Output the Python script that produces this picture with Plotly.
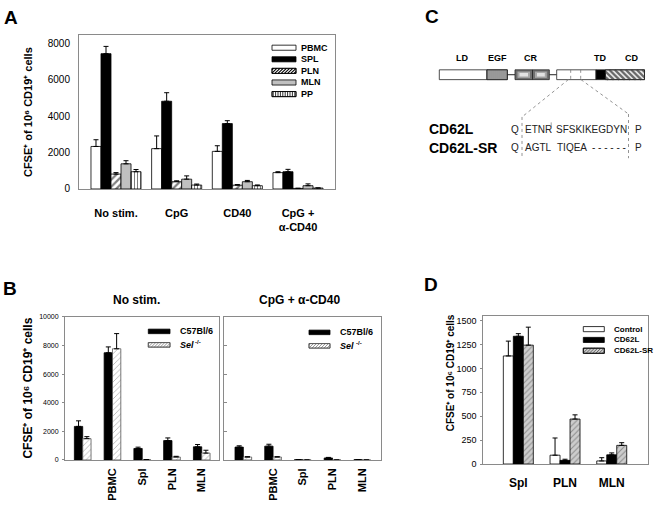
import plotly.graph_objects as go

# ---------------- data ----------------
# Panel A
a_groups = ["No stim.", "CpG", "CD40", "CpG +<br>α-CD40"]
a_series = ["PBMC", "SPL", "PLN", "MLN", "PP"]
a_pbmc = [2340, 2220, 2070, 900]
a_pbmc_err = [370, 700, 310, 50]
a_spl = [7450, 4830, 3600, 950]
a_spl_err = [400, 470, 160, 130]
a_pln = [820, 400, 210, 30]
a_pln_err = [80, 50, 30, 10]
a_mln = [1385, 540, 400, 180]
a_mln_err = [170, 180, 70, 100]
a_pp = [950, 215, 180, 50]
a_pp_err = [120, 55, 40, 10]
a_yticks = [0, 2000, 4000, 6000, 8000]

# Panel B
b_groups = ["PBMC", "SPL", "PLN", "MLN", "PP"]
b_ticklabels = ["", "PBMC", "Spl", "PLN", "MLN"]
b_series = ["C57Bl/6", "Sel"]
b_series_sup = ["", "-/-"]
b_titles = ["No stim.", "CpG + α-CD40"]
b_c57_nostim = [2345, 7490, 805, 1355, 920]
b_c57_nostim_err = [390, 410, 90, 185, 160]
b_sel_nostim = [1490, 7770, 30, 207, 480]
b_sel_nostim_err = [140, 1060, 0, 50, 200]
b_c57_cpg = [900, 965, 20, 140, 20]
b_c57_cpg_err = [90, 135, 0, 40, 0]
b_sel_cpg = [207, 207, 0, 0, 0]
b_sel_cpg_err = [20, 20, 0, 0, 0]
b_yticks = [0, 2000, 4000, 6000, 8000, 10000]
b_ytick_labels = ["0", "2000", "4000", "6000", "8000", "10000"]

# Panel D
d_groups = ["Spl", "PLN", "MLN"]
d_series = ["Control", "CD62L", "CD62L-SR"]
d_control = [1130, 92, 32]
d_control_err = [155, 180, 34]
d_cd62l = [1336, 38, 96]
d_cd62l_err = [27, 12, 20]
d_sr = [1243, 470, 195]
d_sr_err = [188, 44, 28]
d_yticks = [0, 250, 500, 750, 1000, 1250, 1500]

# Panel C (schematic text)
c_domains = ["LD", "EGF", "CR", "TD", "CD"]
c_seq_names = ["CD62L", "CD62L-SR"]
c_seq_cd62l = ["Q", "ETNR", "SFSKIKEGDYN", "P"]
c_seq_sr = ["Q", "AGTL", "TIQEA", "- - - - - -", "P"]

ytitle = "CFSE\u207a of 10\u2076 CD19\u207a cells"

# ---------------- helpers ----------------
W, H = 667, 508
FONT = "Liberation Sans, Arial, Helvetica, sans-serif"
AXC = "#8a8a8a"


def px(x):
    return x / W


def py(y):
    return 1 - y / H


shapes = []
annotations = []


def rect(x0, y0, x1, y1, fill, line="black", lw=0.8):
    shapes.append(dict(type="rect", xref="paper", yref="paper",
                       x0=px(x0), x1=px(x1), y0=py(y1), y1=py(y0),
                       fillcolor=fill, line=dict(color=line, width=lw),
                       layer="above"))


def seg(x0, y0, x1, y1, color="black", lw=1, dash="solid"):
    shapes.append(dict(type="line", xref="paper", yref="paper",
                       x0=px(x0), x1=px(x1), y0=py(y0), y1=py(y1),
                       line=dict(color=color, width=lw, dash=dash),
                       layer="above"))


def hatch(x0, y0, x1, y1, step, kind, color, lw):
    h = y1 - y0
    if kind == "|":
        x = x0 + step / 2
        while x < x1:
            seg(x, y0, x, y1, color, lw)
            x += step
        return
    c = x0 - h + step / 2
    while c < x1:
        tmin = max(0, x0 - c)
        tmax = min(h, x1 - c)
        if tmin < tmax:
            if kind == "/":
                seg(c + tmin, y1 - tmin, c + tmax, y1 - tmax, color, lw)
            else:
                seg(c + tmin, y0 + tmin, c + tmax, y0 + tmax, color, lw)
        c += step


def ann(x, y, text, size, xanchor="center", yanchor="middle", angle=0,
        color="black"):
    annotations.append(dict(x=px(x), y=py(y), xref="paper", yref="paper",
                            text=text, showarrow=False, xanchor=xanchor,
                            yanchor=yanchor, textangle=angle,
                            font=dict(size=size, color=color, family=FONT)))


fig = go.Figure()


def add_bars(xa, ya, values, errs, offset, width, color, pattern=None,
             line_color="black"):
    xs = list(range(len(values)))
    marker = dict(color=color, line=dict(color=line_color, width=0.8))
    if pattern:
        marker["pattern"] = pattern
    fig.add_trace(go.Bar(
        x=xs, y=values, width=width, offset=offset, marker=marker,
        xaxis=xa, yaxis=ya, showlegend=False, hoverinfo="skip",
        error_y=dict(type="data", array=errs, arrayminus=[0] * len(errs),
                     symmetric=False, color="black", thickness=1, width=2.5),
    ))


# ---------------- Panel A ----------------
aw = 0.165
a_vals = [(a_pbmc, a_pbmc_err), (a_spl, a_spl_err), (a_pln, a_pln_err),
          (a_mln, a_mln_err), (a_pp, a_pp_err)]
a_styles = [
    dict(color="white"),
    dict(color="black"),
    dict(color="white", pattern=dict(shape="/", fgcolor="black", bgcolor="white",
                                     size=5, solidity=0.45)),
    dict(color="#c0c0c0"),
    dict(color="white", pattern=dict(shape="|", fgcolor="black", bgcolor="white",
                                     size=3, solidity=0.35)),
]
for i, ((v, e), st) in enumerate(zip(a_vals, a_styles)):
    add_bars("x", "y", v, e, -2.5 * aw + i * aw, aw, st["color"], st.get("pattern"))

# ---------------- Panel B ----------------
bw = 0.28
hatch_sel = dict(shape="/", fgcolor="#6a6a6a", bgcolor="white", size=4, solidity=0.22)
add_bars("x2", "y2", b_c57_nostim, b_c57_nostim_err, -bw, bw, "black")
add_bars("x2", "y2", b_sel_nostim, b_sel_nostim_err, 0, bw, "white", hatch_sel, "#555")
add_bars("x3", "y3", b_c57_cpg, b_c57_cpg_err, -bw, bw, "black")
add_bars("x3", "y3", b_sel_cpg, b_sel_cpg_err, 0, bw, "white", hatch_sel, "#555")

# ---------------- Panel D ----------------
dw = 0.214
hatch_sr = dict(shape="/", fgcolor="#4a4a4a", bgcolor="#cdcdcd", size=4, solidity=0.25)
add_bars("x4", "y4", d_control, d_control_err, -1.5 * dw, dw, "white")
add_bars("x4", "y4", d_cd62l, d_cd62l_err, -0.5 * dw, dw, "black")
add_bars("x4", "y4", d_sr, d_sr_err, 0.5 * dw, dw, "#cdcdcd", hatch_sr)

# ---------------- axes ----------------
base_ax = dict(showline=True, mirror=True, linecolor=AXC, linewidth=1,
               showgrid=False, zeroline=False, tickcolor=AXC, fixedrange=True)

lay = dict(
    width=W, height=H, margin=dict(l=0, r=0, t=0, b=0),
    paper_bgcolor="white", plot_bgcolor="white", barmode="overlay",
    font=dict(family=FONT, color="black"), hovermode=False,
    xaxis=dict(base_ax, domain=[px(79), px(335)], range=[-0.61, 3.61], anchor="y",
               tickmode="array", tickvals=list(range(len(a_groups))), ticktext=a_groups,
               ticks="", tickfont=dict(size=11, weight="bold"), ticklabelstandoff=14),
    yaxis=dict(base_ax, domain=[py(188.3), py(31.7)], range=[0, 8470], anchor="x",
               tickmode="array", tickvals=a_yticks, ticks="",
               tickfont=dict(size=10), ticklabelstandoff=6),
    xaxis2=dict(base_ax, domain=[px(65), px(219.3)], range=[-0.595, 4.59], anchor="y2",
                tickmode="array", tickvals=list(range(len(b_groups))), ticktext=b_ticklabels,
                ticks="", tickangle=-90, tickfont=dict(size=11, weight="bold"),
                ticklabelstandoff=3),
    yaxis2=dict(base_ax, domain=[py(464.2), py(318.5)], range=[0, 10000], anchor="x2",
                tickmode="array", tickvals=b_yticks, ticktext=b_ytick_labels,
                ticks="outside", ticklen=2,
                tickfont=dict(size=7), ticklabelstandoff=2),
    xaxis3=dict(base_ax, domain=[px(224), px(380.7)], range=[-0.65, 4.62], anchor="y3",
                tickmode="array", tickvals=list(range(len(b_groups))), ticktext=b_ticklabels,
                ticks="", tickangle=-90, tickfont=dict(size=11, weight="bold"),
                ticklabelstandoff=3),
    yaxis3=dict(base_ax, domain=[py(464.2), py(318.5)], range=[0, 10000], anchor="x3",
                tickmode="array", tickvals=b_yticks, ticks="inside", ticklen=3,
                showticklabels=False),
    xaxis4=dict(base_ax, domain=[px(483.3), px(647.7)], range=[-0.75, 2.77], anchor="y4",
                tickmode="array", tickvals=list(range(len(d_groups))), ticktext=d_groups,
                ticks="", tickfont=dict(size=12, weight="bold"), ticklabelstandoff=8),
    yaxis4=dict(base_ax, domain=[py(468.3), py(317.7)], range=[0, 1547], anchor="x4",
                tickmode="array", tickvals=d_yticks, ticks="outside", ticklen=2,
                tickfont=dict(size=9), ticklabelstandoff=2),
)

# ---------------- legends (drawn) ----------------
# A
a_rows = [44.5, 56.3, 68.1, 79.9, 91.7]
for name, yc, st in zip(a_series, a_rows, a_styles):
    x0, x1, y0, y1 = 272, 296, yc - 2.6, yc + 2.6
    pat = st.get("pattern")
    rect(x0, y0, x1, y1, st["color"])
    if pat:
        hatch(x0, y0, x1, y1, 3.2 if pat["shape"] == "/" else 2.4, pat["shape"],
              "black", 1.1 if pat["shape"] == "/" else 0.8)
        rect(x0, y0, x1, y1, "rgba(0,0,0,0)")
    ann(299, yc, "<b>%s</b>" % name, 9, xanchor="left")

# B
for (lx0, lx1, tx, rows) in [(148.3, 170, 177.7, [333.3, 347]),
                              (309, 330, 338.3, [334.3, 348])]:
    rect(lx0, rows[0] - 2.3, lx1, rows[0] + 2.3, "black")
    rect(lx0, rows[1] - 2.3, lx1, rows[1] + 2.3, "white", "#555")
    hatch(lx0, rows[1] - 2.3, lx1, rows[1] + 2.3, 3, "/", "#6a6a6a", 0.7)
    rect(lx0, rows[1] - 2.3, lx1, rows[1] + 2.3, "rgba(0,0,0,0)", "#555")
    ann(tx, rows[0], "<b>%s</b>" % b_series[0], 9, xanchor="left")
    ann(tx, rows[1], "<b><i>%s</i></b>" % b_series[1], 9, xanchor="left")
    ann(tx + 15.5, rows[1] - 3.2, "<b>%s</b>" % b_series_sup[1], 6, xanchor="left")

# D
d_rows = [331, 342, 353]
rect(583.3, d_rows[0] - 2.6, 604.3, d_rows[0] + 2.6, "white")
rect(583.3, d_rows[1] - 2.6, 604.3, d_rows[1] + 2.6, "black")
rect(583.3, d_rows[2] - 2.6, 604.3, d_rows[2] + 2.6, "#cdcdcd")
hatch(583.3, d_rows[2] - 2.6, 604.3, d_rows[2] + 2.6, 3.2, "/", "#4a4a4a", 0.8)
rect(583.3, d_rows[2] - 2.6, 604.3, d_rows[2] + 2.6, "rgba(0,0,0,0)")
for name, yc in zip(d_series, d_rows):
    ann(611.7, yc, "<b>%s</b>" % name, 8, xanchor="left")

# ---------------- titles / letters ----------------
ann(10.5, 13.5, "<b>A</b>", 19)
ann(10, 290, "<b>B</b>", 19)
ann(432, 12.5, "<b>C</b>", 19)
ann(431.5, 286, "<b>D</b>", 19)
ann(28, 110, "<b>%s</b>" % ytitle, 11, angle=-90)
ann(28, 391.5, "<b>%s</b>" % ytitle, 12, angle=-90)
ann(450, 376, "<b>%s</b>" % ytitle, 10, angle=-90)
ann(136, 301.7, "<b>%s</b>" % b_titles[0], 12)
ann(299, 301.7, "<b>%s</b>" % b_titles[1], 12)

# ---------------- Panel C schematic ----------------
by0, by1 = 67, 77
ym = (by0 + by1) / 2
seg(507.3, ym, 515, ym, "#222", 1)
seg(549.3, ym, 556.7, ym, "#222", 1)
rect(439.3, by0, 487, by1, "white", "#222")
rect(487, by0, 507.3, by1, "#555", "#222")
hatch(487, by0, 507.3, by1, 2.0, "|", "white", 0.8)
rect(487, by0, 507.3, by1, "rgba(0,0,0,0)", "#222")
for cx0, cx1 in [(515, 532.5), (532.5, 549.3)]:
    rect(cx0, by0, cx1, by1, "#707070", "#222")
    rect(cx0 + 2.5, by0 + 1.8, cx1 - 2.5, by1 - 1.8, "#a8a8a8", "#a8a8a8", 0)
    rect(cx0 + 4.5, by0 + 3.2, cx1 - 4.5, by1 - 3.2, "#e2e2e2", "#e2e2e2", 0)
rect(556.7, by0, 596, by1, "white", "#222")
seg(570.7, by0, 570.7, by1, "#777", 0.8, "dot")
seg(580.7, by0, 580.7, by1, "#777", 0.8, "dot")
rect(596, by0, 605.5, by1, "black", "#222")
rect(605.5, by0, 644.5, by1, "#e6e6e6", "#222")
hatch(605.5, by0, 644.5, by1, 5.5, "\\", "#6a6a6a", 2.2)
rect(605.5, by0, 644.5, by1, "rgba(0,0,0,0)", "#222")

for name, xc in zip(c_domains, [462.3, 497.7, 530.7, 600, 631.7]):
    ann(xc, 55, "<b>%s</b>" % name, 9)

# projection dotted lines
seg(568.3, by1, 522, 115, "#888", 0.9, "dot")
seg(522, 115, 522, 157, "#888", 0.9, "dot")
seg(581, by1, 628.5, 112, "#888", 0.9, "dot")
seg(628.5, 112, 628.5, 157, "#888", 0.9, "dot")

row1, row2 = 127.3, 146.3
ann(427.3, row1, "<b>%s</b>" % c_seq_names[0], 14, xanchor="left")
ann(427.3, row2, "<b>%s</b>" % c_seq_names[1], 14, xanchor="left")
SEQC = "#222"
for txt, x in zip(c_seq_cd62l, [509, 522.5, 553.5, 633]):
    ann(x, row1, txt, 10, xanchor="left", color=SEQC)
for txt, x in zip(c_seq_sr, [509, 522.5, 555, 589.5, 633]):
    ann(x, row2, txt, 10, xanchor="left", color=SEQC)
seg(551.2, 120.5, 551.2, 125, "#888", 0.8)

lay["shapes"] = shapes
lay["annotations"] = annotations
fig.update_layout(**lay)
fig.write_html(
    "out.html",
    config={"displayModeBar": False, "staticPlot": True},
    post_script="document.body.style.margin='0';document.body.style.padding='0';"
                "document.body.style.overflow='hidden';",
)
